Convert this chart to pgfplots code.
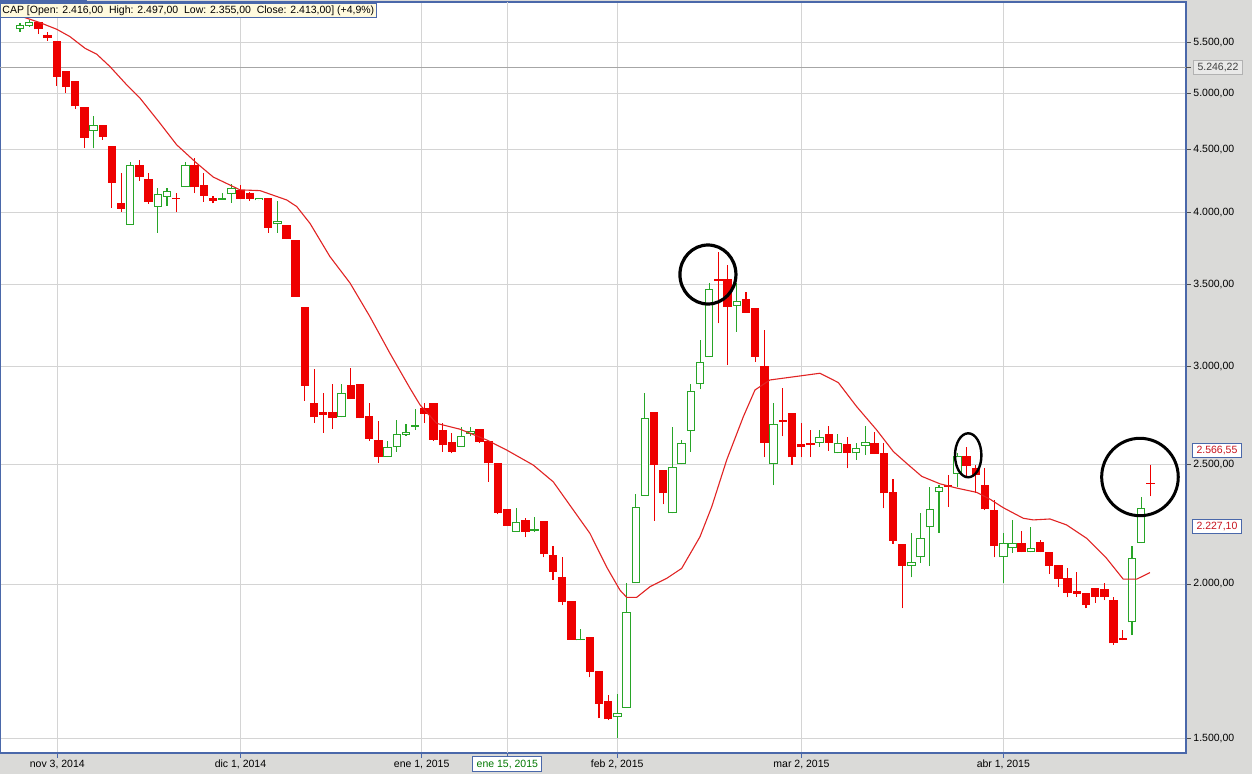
\documentclass[border=0pt]{standalone}
\usepackage{pgfplots}
\pgfplotsset{compat=1.18}
\usepackage{pgfplotstable}
\usepackage{fontspec}
\setmainfont{Liberation Sans}
\newcommand\fs{\fontsize{5.25pt}{6pt}\selectfont}

\definecolor{axblue}{RGB}{74,104,170}
\definecolor{cred}{RGB}{238,0,0}
\definecolor{cgreen}{RGB}{40,165,40}
\definecolor{gridgray}{RGB}{212,212,212}
\definecolor{bggray}{RGB}{218,218,216}
\definecolor{marked}{RGB}{225,35,35}
\definecolor{tipyellow}{RGB}{255,250,222}
\definecolor{labred}{RGB}{200,20,30}
\definecolor{labgreen}{RGB}{0,120,0}

% candles: trading day, open, high, low, close
\pgfplotstableread{
x o h l c
3 5708 5710 5581 5633
4 5574 5602 5515 5540
5 5512 5512 5068 5157
6 5211 5211 5005 5056
7 5115 5115 4858 4877
8 4873 4873 4517 4602
10 4712 4712 4582 4610
11 4531 4531 4038 4231
12 4076 4308 4008 4031
14 4373 4414 4246 4278
15 4260 4308 4066 4079
18 4112 4148 4008 4102
20 4373 4433 4148 4193
21 4213 4310 4083 4129
22 4109 4129 4070 4090
25 4174 4213 4106 4106
26 4153 4161 4090 4106
28 4109 4109 3854 3890
30 3910 3910 3807 3807
31 3802 3802 3420 3420
32 3353 3353 2816 2896
33 2803 2988 2703 2730
34 2756 2859 2653 2742
35 2756 2906 2670 2725
37 2898 2991 2824 2824
38 2904 2904 2725 2725
39 2737 2806 2614 2623
40 2617 2711 2508 2534
45 2777 2803 2703 2746
46 2803 2803 2612 2617
47 2666 2703 2560 2591
48 2607 2649 2552 2560
51 2670 2670 2601 2607
52 2612 2612 2420 2505
53 2505 2505 2278 2285
54 2299 2299 2229 2229
56 2254 2264 2182 2204
58 2251 2251 2102 2115
59 2111 2147 2015 2046
60 2025 2104 1923 1933
61 1937 1937 1803 1803
63 1810 1810 1680 1698
64 1700 1700 1556 1598
65 1607 1625 1551 1553
70 2759 2759 2251 2497
71 2474 2474 2320 2368
77 3532 3719 3254 3520
78 3532 3628 3010 3357
80 3404 3452 3319 3319
81 3347 3347 3028 3057
82 3004 3213 2534 2601
84 2718 2882 2634 2704
85 2752 2752 2499 2533
86 2599 2700 2534 2581
87 2603 2666 2534 2590
89 2645 2686 2565 2604
91 2596 2633 2482 2552
94 2601 2658 2549 2549
95 2552 2601 2303 2368
96 2373 2431 2155 2168
97 2155 2155 1911 2069
102 2405 2451 2310 2397
104 2540 2585 2443 2494
105 2482 2497 2371 2451
106 2405 2482 2296 2300
107 2296 2339 2102 2146
110 2158 2209 2122 2122
112 2162 2171 2122 2122
113 2122 2122 2037 2069
114 2072 2072 1988 2020
115 2021 2059 1951 1968
116 1973 2046 1953 1964
117 1965 1965 1911 1923
118 1986 1986 1931 1953
119 1980 2003 1941 1953
120 1941 1951 1785 1790
121 1808 1835 1801 1803
124 2416 2497 2355 2413
}\redtab

\pgfplotstableread{
x o h l c
1 5633 5703 5608 5679
2 5668 5732 5661 5708
9 4657 4792 4511 4710
13 3910 4400 3910 4373
16 4046 4187 3854 4143
17 4122 4187 4051 4166
19 4195 4395 4195 4373
23 4098 4153 4096 4108
24 4141 4219 4075 4187
27 4093 4109 4093 4109
29 3915 4088 3854 3939
36 2730 2904 2730 2856
41 2534 2612 2534 2581
42 2581 2716 2560 2645
43 2642 2696 2637 2656
44 2683 2772 2666 2690
49 2585 2682 2585 2637
50 2646 2682 2634 2663
55 2204 2304 2204 2247
57 2208 2268 2205 2215
62 1800 1840 1800 1805
66 1559 1630 1499 1573
67 1588 2003 1588 1897
68 2003 2365 2003 2307
69 2358 2856 2358 2725
72 2282 2682 2282 2489
73 2500 2617 2500 2601
74 2663 2906 2560 2869
75 2904 3154 2876 3025
76 3054 3507 3054 3468
79 3361 3507 3203 3393
83 2500 2803 2405 2695
88 2601 2666 2585 2631
90 2552 2645 2552 2601
92 2552 2601 2521 2576
93 2589 2686 2544 2606
98 2069 2198 2025 2082
99 2102 2284 2081 2178
100 2223 2398 2068 2299
101 2373 2405 2201 2395
103 2456 2554 2398 2540
108 2102 2201 2005 2158
109 2138 2254 2120 2158
111 2122 2226 2122 2138
122 1862 2146 1818 2098
123 2158 2351 2158 2303
}\greentab

% moving average
\pgfplotstableread{
x v
1 5775
3.18 5703
5.0 5633
6.44 5556
8.07 5437
9.35 5377
10.79 5254
12.61 5078
14.06 4953
16.23 4727
18.05 4540
20.23 4387
22.03 4275
24.94 4174
27.12 4168
30.02 4096
31.11 4046
32.56 3921
34.73 3685
36.91 3508
39.08 3294
41.26 3076
43.44 2882
44.53 2794
46.34 2699
48.88 2670
51.78 2617
53.96 2568
56.85 2497
59.03 2420
61.21 2296
63.02 2198
64.84 2064
66.29 1977
67.02 1951
68.10 1951
69.55 1990
71.37 2021
73.00 2059
74.99 2184
76.27 2310
77.90 2521
79.71 2733
80.98 2873
82.61 2927
85.87 2949
88.05 2964
90.04 2913
92.04 2785
94.22 2666
96.03 2561
97.48 2505
99.12 2445
101.11 2411
102.93 2392
105.10 2373
106.55 2343
107.99 2306
110.17 2261
111.26 2254
113.08 2258
114.89 2233
117.07 2178
119.24 2098
121.05 2018
122.51 2018
123.96 2043
}\matab

\pgfplotsset{candle/.style={draw=none, mark=none, forget plot,
  error bars/.cd, y dir=plus, y explicit, error mark=none}}

\begin{document}
\begin{tikzpicture}
\path[use as bounding box, fill=bggray] (0,0) rectangle (626pt,387pt);
\begin{axis}[
  at={(0pt,10.5pt)}, anchor=south west,
  scale only axis, width=593pt, height=375.5pt,
  xmin=-1.176, xmax=127.88,
  ymode=log, ymin=1459, ymax=5928,
  axis background/.style={fill=white},
  axis line style={axblue, line width=0.6pt},
  clip=false,
  grid=major, major grid style={draw=gridgray, line width=0.5pt},
  tick align=outside, major tick length=2.5pt,
  minor y tick num=0,
  xtick style={axblue, line width=0.5pt},
  ytick style={black!70, line width=0.5pt},
  ytick pos=right, yticklabel pos=right, xtick pos=left,
  ytick={1500,2000,2500,3000,3500,4000,4500,5000,5500},
  yticklabels={{1.500,00},{2.000,00},{2.500,00},{3.000,00},{3.500,00},{4.000,00},{4.500,00},{5.000,00},{5.500,00}},
  xtick={5.06,24.99,44.71,65.99,86.04,108.0},
  xticklabels={{nov 3, 2014},{dic 1, 2014},{ene 1, 2015},{feb 2, 2015},{mar 2, 2015},{abr 1, 2015}},
  ticklabel style={font=\fs},
  yticklabel style={anchor=west, inner sep=0pt, xshift=1pt},
  xticklabel style={anchor=north, inner sep=0pt, yshift=-0.8pt},
  extra x ticks={54.03}, extra x tick labels={ene 15{,} 2015},
  extra x tick style={grid=major, xticklabel style={draw=axblue, fill=white, text=labgreen, inner xsep=2pt, inner ysep=1.6pt, line width=0.5pt, yshift=1.7pt}},
  extra y ticks={5246.22}, extra y tick labels={5.246{,}22},
  extra y tick style={grid=major, major grid style={draw=black!35, line width=0.5pt}, yticklabel style={draw=black!30, fill=bggray!60, text=black!75, inner xsep=2pt, inner ysep=1.5pt, line width=0.5pt}},
]
% wicks
\addplot[candle, error bar style={draw=cred, line width=0.55pt}]
  table[x=x, y=l, y error expr=\thisrow{h}-\thisrow{l}] {\redtab};
\addplot[candle, error bar style={draw=cgreen, line width=0.55pt}]
  table[x=x, y=l, y error expr=\thisrow{h}-\thisrow{l}] {\greentab};
% bodies
\addplot[candle, error bar style={draw=cred, line width=4.2pt}]
  table[x=x, y=c, y error expr=\thisrow{o}-\thisrow{c}] {\redtab};
\addplot[candle, error bar style={draw=cgreen, line width=4.2pt}]
  table[x=x, y=o, y error expr=\thisrow{c}-\thisrow{o}] {\greentab};
\addplot[candle, error bar style={draw=white, line width=3.2pt}]
  table[x=x, y expr=\thisrow{o}*1.0019, y error expr={max(\thisrow{c}/1.0019-\thisrow{o}*1.0019,0)}] {\greentab};
% moving average
\addplot[marked, line width=0.55pt, mark=none] table[x=x, y=v] {\matab};

% marks drawn by hand on the chart
\draw[line width=1.6pt] (axis cs:75.86,3564) ellipse [x radius=14pt, y radius=14.75pt];
\draw[line width=1.2pt] (axis cs:104.18,2543) ellipse [x radius=6.6pt, y radius=11pt];
\draw[line width=1.5pt] (axis cs:122.87,2442) ellipse [x radius=19.15pt, y radius=19.35pt];

\node[anchor=west, draw=axblue, fill=white, text=labred, font=\fs, inner xsep=2pt, inner ysep=1.5pt, line width=0.5pt]
  at ([xshift=3pt]axis cs:127.88,2566.55) {2.566,55};
\node[anchor=west, draw=axblue, fill=white, text=labred, font=\fs, inner xsep=2pt, inner ysep=1.5pt, line width=0.5pt]
  at ([xshift=3pt]axis cs:127.88,2227.10) {2.227,10};
\end{axis}
\fill[axblue] (0,386.2pt) rectangle (43.5pt,387pt);
\node[anchor=north west, draw=axblue, fill=tipyellow, font=\fs, inner xsep=1pt, inner ysep=1pt, line width=0.5pt]
  at (0pt,385.4pt) {CAP [Open: 2.416,00\hspace{.55em}High: 2.497,00\hspace{.55em}Low: 2.355,00\hspace{.55em}Close: 2.413,00] (+4,9\%)};
\end{tikzpicture}
\end{document}
